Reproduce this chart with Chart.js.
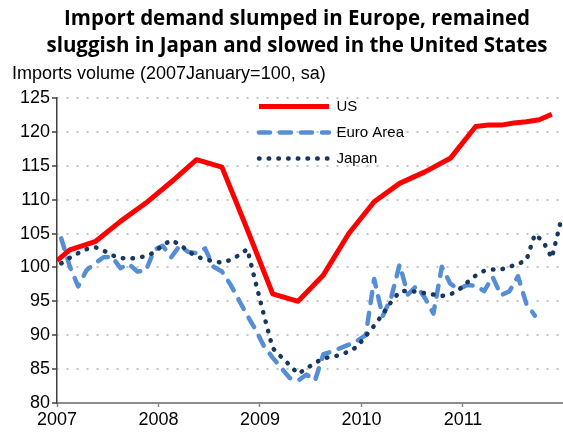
<!DOCTYPE html>
<html>
<head>
<meta charset="utf-8">
<script src="https://cdn.jsdelivr.net/npm/chart.js"></script>
<style>
  html, body { margin: 0; padding: 0; background: #fff; overflow: hidden; }
  #wrap { width: 563px; height: 434px; overflow: hidden; }
  canvas { display: block; }
</style>
</head>
<body>
<div id="wrap"><canvas id="chart" width="582" height="434" style="width:582px;height:434px;"></canvas></div>
<script>
// ---- data (months counted from January 2007) ----
const yearLabels = ["2007", "2008", "2009", "2010", "2011"];

// US: quarterly readings, plus some monthly ones in 2011
const usMonth = [0, 1.5, 4.5, 7.5, 10.5, 13.5, 16.5, 19.5, 22.5, 25.5, 28.5, 31.5,
    34.5, 37.5, 40.5, 43.5, 46.5, 49.5, 51, 52.5, 54, 55.5, 57, 58.5];
const usValues = [101.0, 102.6, 103.8, 106.8, 109.5, 112.6, 115.9, 114.8, 105.6, 96.1, 95.0, 98.9,
    105.0, 109.7, 112.4, 114.1, 116.1, 120.8, 121.0, 121.0, 121.3, 121.5, 121.8, 122.6];

// Euro Area: monthly, Jan 2007 - Sep 2011
const euroValues = [104.3, 100.2, 97.2, 99.6, 100.6, 101.5, 101.6, 99.9, 100.5, 99.4,
    99.5, 102.6, 103.2, 101.5, 103.2, 102.3, 102.1, 102.8, 100.1, 99.4,
    97.5, 95.2, 92.9, 90.8, 88.3, 86.7, 85.2, 83.7, 83.3, 84.2,
    83.3, 87.2, 87.6, 88.1, 88.6, 89.2, 90.0, 98.3, 92.8, 95.5,
    100.4, 96.0, 97.3, 95.5, 93.2, 100.1, 97.6, 96.8, 97.4, 97.3,
    96.5, 98.6, 95.9, 96.5, 98.7, 94.6, 92.9];

// Japan: monthly, Jan 2007 - Dec 2011
const japanValues = [100.6, 101.4, 102.1, 102.7, 103.0, 102.5, 101.8, 101.4, 101.3, 101.4,
    101.7, 102.2, 103.3, 104.0, 103.4, 102.4, 101.6, 101.2, 100.9, 100.7,
    101.1, 101.8, 102.7, 97.7, 92.8, 88.1, 86.8, 85.6, 84.3, 85.1,
    85.9, 86.6, 86.8, 87.1, 87.6, 88.3, 89.9, 91.4, 93.1, 94.9,
    96.4, 96.6, 96.4, 96.2, 96.0, 95.8, 96.0, 96.7, 97.8, 98.8,
    99.5, 99.7, 99.7, 100.1, 100.5, 101.1, 104.9, 103.8, 101.4, 106.5];

// monthly points sit mid-month
const monthly = (vals) => vals.map((v, i) => ({ x: i + 0.5, y: v }));

// -----------------------------
// move the legend into the plot
// -----------------------------
const legendPlace = {
    id: "legendPlace",
    afterLayout(chart) {
        chart.legend.left = 248;
        chart.legend.top = 88;
    }
};

// legend samples should use the dataset line styles
const legendItems = (chart) => {
    const items = Chart.defaults.plugins.legend.labels.generateLabels(chart);
    items.forEach((it) => {
        const ds = chart.data.datasets[it.datasetIndex];
        it.lineDash = ds.borderDash || [];
        it.lineCap = ds.borderCapStyle || "butt";
        it.lineWidth = ds.borderWidth;
        it.strokeStyle = ds.borderColor;
    });
    return items;
};

const axisFont = { family: "'Liberation Sans', Arial, sans-serif", size: 18 };

new Chart(document.getElementById("chart"), {
    type: "line",
    data: {
        datasets: [
            {
                label: "US",
                data: usMonth.map((m, i) => ({ x: m, y: usValues[i] })),
                borderColor: "#FF0000",
                backgroundColor: "#FF0000",
                borderWidth: 5,
                borderJoinStyle: "round",
                order: 0
            },
            {
                label: "Euro Area",
                data: monthly(euroValues),
                borderColor: "#558ED5",
                backgroundColor: "#558ED5",
                borderWidth: 4.5,
                borderDash: [11, 10],
                borderCapStyle: "round",
                borderJoinStyle: "round",
                order: 2
            },
            {
                label: "Japan",
                data: monthly(japanValues),
                borderColor: "#17375E",
                backgroundColor: "#17375E",
                borderWidth: 4.5,
                borderDash: [0.5, 9.2],
                borderCapStyle: "round",
                borderJoinStyle: "round",
                order: 1
            }
        ]
    },
    options: {
        responsive: false,
        animation: false,
        devicePixelRatio: 1,
        layout: { padding: { left: 12, right: 0, top: 0, bottom: 0 } },
        elements: { point: { radius: 0 }, line: { tension: 0 } },
        scales: {
            x: {
                type: "linear",
                min: 0,
                max: 62.07,
                afterBuildTicks: (scale) => {
                    scale.ticks = yearLabels.map((_, k) => ({ value: k * 12 }));
                },
                afterFit: (scale) => { scale.height = 31; },
                ticks: {
                    autoSkip: false,
                    maxRotation: 0,
                    padding: 2,
                    color: "#000",
                    font: axisFont,
                    callback: (v) => yearLabels[v / 12]
                },
                grid: {
                    drawOnChartArea: false,
                    drawTicks: true,
                    tickLength: 4,
                    tickColor: "#888",
                    tickWidth: 1.5
                },
                border: { color: "#8c8c8c", width: 2 }
            },
            y: {
                min: 80,
                max: 125,
                afterFit: (scale) => { scale.width = 45; },
                ticks: {
                    stepSize: 5,
                    padding: 2,
                    color: "#000",
                    font: axisFont
                },
                grid: {
                    color: "#c4c4c4",
                    lineWidth: 2,
                    tickLength: 5,
                    tickColor: "#404040",
                    tickWidth: 1.5
                },
                border: { color: "#404040", width: 1.5, dash: [2, 8], dashOffset: 1 }
            }
        },
        plugins: {
            tooltip: { enabled: false },
            title: {
                display: true,
                text: ["Import demand slumped in Europe, remained",
                       "sluggish in Japan and slowed in the United States"],
                color: "#000",
                font: { family: "'Open Sans', 'Noto Sans', sans-serif", size: 20.5, weight: "bold", lineHeight: 1.317 },
                padding: { top: 5.5, bottom: 4.5 }
            },
            subtitle: {
                display: true,
                align: "start",
                text: "Imports volume (2007January=100, sa)",
                color: "#000",
                font: { family: "'Liberation Sans', Arial, sans-serif", size: 18, lineHeight: 1.1111 },
                padding: { top: 0, bottom: 14 }
            },
            legend: {
                position: "chartArea",
                align: "start",
                labels: {
                    usePointStyle: true,
                    pointStyle: "line",
                    pointStyleWidth: 70,
                    padding: 11,
                    color: "#000",
                    font: { family: "'Liberation Sans', Arial, sans-serif", size: 15 },
                    generateLabels: legendItems,
                    sort: (a, b) => a.datasetIndex - b.datasetIndex
                }
            }
        }
    },
    plugins: [legendPlace]
});
</script>
</body>
</html>
